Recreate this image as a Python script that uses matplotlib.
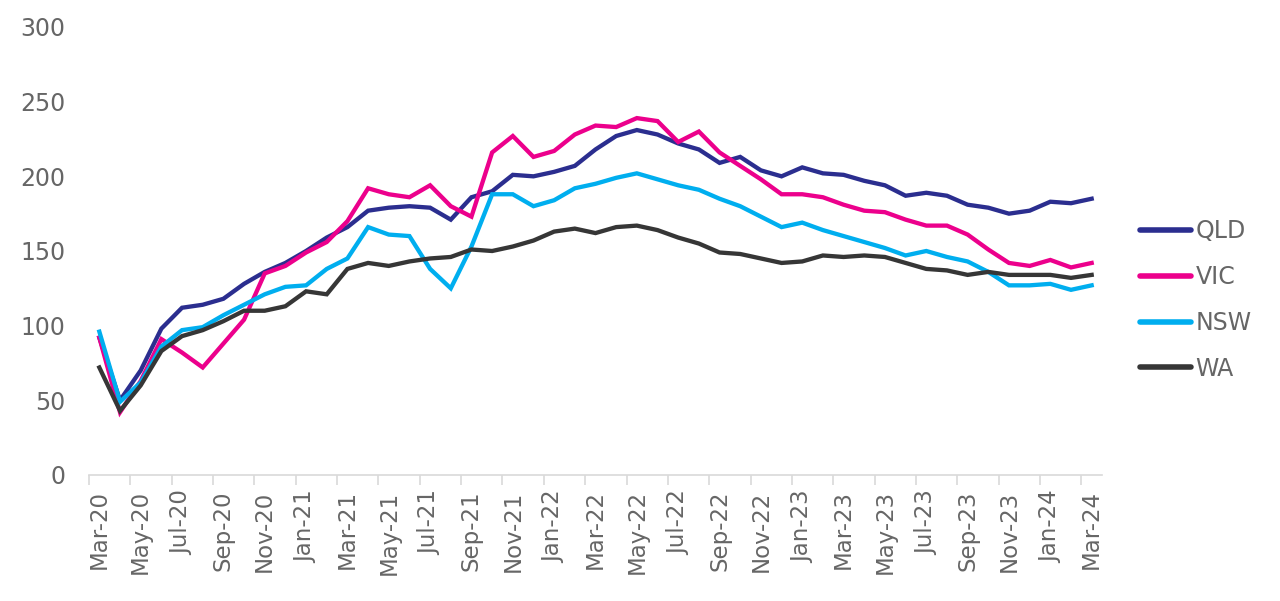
import matplotlib
matplotlib.use("Agg")
import matplotlib.pyplot as plt
from matplotlib.lines import Line2D

months = ["Mar-20","Apr-20","May-20","Jun-20","Jul-20","Aug-20","Sep-20","Oct-20","Nov-20","Dec-20",
          "Jan-21","Feb-21","Mar-21","Apr-21","May-21","Jun-21","Jul-21","Aug-21","Sep-21","Oct-21",
          "Nov-21","Dec-21","Jan-22","Feb-22","Mar-22","Apr-22","May-22","Jun-22","Jul-22","Aug-22",
          "Sep-22","Oct-22","Nov-22","Dec-22","Jan-23","Feb-23","Mar-23","Apr-23","May-23","Jun-23",
          "Jul-23","Aug-23","Sep-23","Oct-23","Nov-23","Dec-23","Jan-24","Feb-24","Mar-24"]

qld = [92, 50, 70, 98, 112, 114, 118, 128, 136, 142, 150, 159, 166, 177, 179, 180, 179, 171, 186, 190,
       201, 200, 203, 207, 218, 227, 231, 228, 222, 218, 209, 213, 204, 200, 206, 202, 201, 197, 194, 187,
       189, 187, 181, 179, 175, 177, 183, 182, 185]
vic = [92, 42, 63, 91, 82, 72, 88, 104, 135, 140, 149, 156, 170, 192, 188, 186, 194, 180, 173, 216,
       227, 213, 217, 228, 234, 233, 239, 237, 223, 230, 216, 207, 198, 188, 188, 186, 181, 177, 176, 171,
       167, 167, 161, 151, 142, 140, 144, 139, 142]
nsw = [96, 49, 62, 86, 97, 99, 107, 114, 121, 126, 127, 138, 145, 166, 161, 160, 138, 125, 153, 188,
       188, 180, 184, 192, 195, 199, 202, 198, 194, 191, 185, 180, 173, 166, 169, 164, 160, 156, 152, 147,
       150, 146, 143, 136, 127, 127, 128, 124, 127]
wa = [72, 43, 60, 83, 93, 97, 103, 110, 110, 113, 123, 121, 138, 142, 140, 143, 145, 146, 151, 150,
      153, 157, 163, 165, 162, 166, 167, 164, 159, 155, 149, 148, 145, 142, 143, 147, 146, 147, 146, 142,
      138, 137, 134, 136, 134, 134, 134, 132, 134]

series = [("QLD", qld, "#2B2E8F"), ("VIC", vic, "#EC008C"), ("NSW", nsw, "#00AEEF"), ("WA", wa, "#363636")]

plt.rcParams['font.family'] = ['DejaVu Sans']
txt_col = '#666666'
fig = plt.figure(figsize=(12.8, 6.01), dpi=100)
ax = fig.add_axes([89/1280, 1-475/601, (1102-89)/1280, (475-27)/601])

x = list(range(len(months)))
for name, vals, col in series:
    ax.plot(x, vals, color=col, lw=3.1, solid_joinstyle='miter', label=name)

ax.set_xlim(-0.5, len(months)-0.5)
ax.set_ylim(0, 300)
ax.set_yticks(range(0, 301, 50))
ax.tick_params(axis='y', length=0, pad=17, labelsize=17, labelcolor=txt_col)

ax.set_xticks(x[::2])
ax.set_xticklabels(months[::2], rotation=90, fontsize=16.5, color=txt_col)
ax.set_xticks([i - 0.5 for i in range(0, len(months)+1, 2)], minor=True)
ax.tick_params(axis='x', which='major', length=0, pad=11)
ax.tick_params(axis='x', which='minor', length=7, color='#D9D9D9', width=1.2)

for s in ['top', 'right', 'left']:
    ax.spines[s].set_visible(False)
ax.spines['bottom'].set_color('#D9D9D9')
ax.spines['bottom'].set_linewidth(1.2)

handles = [Line2D([0], [0], color=c, lw=4, solid_capstyle='round') for _, _, c in series]
leg = fig.legend(handles, [n for n, _, _ in series], loc='center left',
                 bbox_to_anchor=(1140/1280, 1-300/601), frameon=False,
                 borderpad=0, borderaxespad=0,
                 fontsize=17, handlelength=2.15, handletextpad=0.2, labelspacing=0.92,
                 labelcolor=txt_col)

fig.savefig("out.png", dpi=100)
